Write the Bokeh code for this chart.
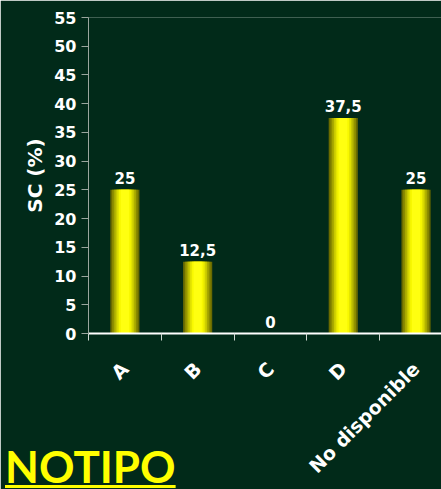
import math
from bokeh.plotting import figure
from bokeh.models import ColumnDataSource, FixedTicker, Range1d, Div
from bokeh.layouts import column
from bokeh.core.properties import value
from bokeh.embed import file_html
from bokeh.resources import INLINE

categories = ["A", "B", "C", "D", "No disponible"]
values = [25, 12.5, 0, 37.5, 25]
value_labels = ["25", "12,5", "0", "37,5", "25"]
y_ticks = [0, 5, 10, 15, 20, 25, 30, 35, 40, 45, 50, 55]
title_text = "NOTIPO"

BG = "#012a19"
FONT = "DejaVu Sans"

xs = [i + 0.5 for i in range(len(categories))]
src = ColumnDataSource(dict(x=xs, top=values, lab=value_labels))

fig = figure(width=441, height=489, output_backend="svg", toolbar_location=None,
             x_range=Range1d(0, 4.85), y_range=Range1d(0, 55),
             min_border_left=88, min_border_right=0, min_border_top=17, min_border_bottom=156)
fig.background_fill_color = BG
fig.border_fill_color = BG
fig.outline_line_color = None
fig.grid.visible = False

# bars with a simulated cylindrical gradient
layers = [(1.00, "#6a6a00"), (0.88, "#8a8a00"), (0.76, "#a8a800"), (0.64, "#c8c800"),
          (0.52, "#e4e400"), (0.40, "#f8f800"), (0.28, "#ffff10")]
for frac, col in layers:
    fig.vbar(x="x", top="top", bottom=0, width=0.4 * frac, source=src,
             fill_color=col, line_color=None)

fig.text(x="x", y="top", text="lab", source=src, text_color="white",
         text_font=value(FONT), text_font_style="bold", text_font_size="15px",
         text_align="center", text_baseline="bottom", y_offset=-6)

# y axis
ya = fig.yaxis[0]
ya.ticker = FixedTicker(ticks=y_ticks)
ya.axis_label = "SC (%)"
ya.axis_label_text_font = FONT
ya.axis_label_text_font_style = "bold"
ya.axis_label_text_font_size = "20px"
ya.axis_label_text_color = "white"
ya.axis_label_standoff = 4
ya.major_label_text_font = FONT
ya.major_label_text_font_style = "bold"
ya.major_label_text_font_size = "16px"
ya.major_label_text_color = "white"
ya.axis_line_color = "#9aa69e"
ya.major_tick_line_color = "#9aa69e"
ya.major_tick_out = 7
ya.major_tick_in = 0
ya.minor_tick_line_color = None
ya.major_label_standoff = 5

# x axis: labels at centers, tick marks at boundaries
xa = fig.xaxis[0]
xa.ticker = FixedTicker(ticks=xs, minor_ticks=list(range(len(categories) + 1)))
xa.major_label_overrides = {x: c for x, c in zip(xs, categories)}
xa.major_label_orientation = math.pi / 4
xa.major_label_text_font = FONT
xa.major_label_text_font_style = "bold"
xa.major_label_text_font_size = "19px"
xa.major_label_text_color = "white"
xa.major_label_standoff = 25
xa.major_tick_line_color = None
xa.minor_tick_line_color = "#cfd6d1"
xa.minor_tick_out = 7
xa.minor_tick_in = 0
xa.axis_line_color = "white"
xa.axis_line_width = 2

# underlined title at the bottom left, overlapping the chart's lower margin
title = Div(
    text=('<span style="display:block; position:relative; left:0px; top:2px; margin:0; padding:0; '
          'font-family:Lato; font-weight:bold; font-size:44px; line-height:44px; '
          'color:#ffff00; text-decoration:underline; text-decoration-thickness:3px; '
          'text-underline-offset:2px; white-space:nowrap;">' + title_text + '</span>'),
    width=441, height=47,
    styles={"margin-top": "-47px", "position": "relative", "z-index": "5",
            "padding": "0"},
)

p = column(fig, title, spacing=0)

open("out.html", "w").write(file_html(p, INLINE))
